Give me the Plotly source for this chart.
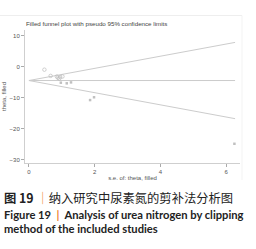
import plotly.graph_objects as go

# ---- data ----
se_obs = [0.47, 0.66, 0.85, 0.88, 0.92, 0.95, 1.02]
theta_obs = [-1.0, -3.0, -3.2, -3.6, -3.9, -3.4, -3.2]
se_filled = [0.97, 1.15, 1.28, 1.86, 1.98, 6.25]
theta_filled = [-5.2, -5.4, -5.1, -10.8, -9.9, -24.9]

line_se = [0, 6.27]
pooled_theta = [-4.5, -4.5]
upper_limit = [-4.5, 7.8]
lower_limit = [-4.5, -16.8]

x_ticks = [0, 2, 4, 6]
y_ticks = [10, 0, -10, -20, -30]

W, H = 256, 249
gray_line = "#cccccc"
txt = "#555555"

fig = go.Figure()
for yv in (upper_limit, pooled_theta, lower_limit):
    fig.add_trace(go.Scatter(x=line_se, y=yv, mode="lines",
                             line=dict(color=gray_line, width=1), hoverinfo="skip"))
fig.add_trace(go.Scatter(x=se_obs, y=theta_obs, mode="markers",
                         marker=dict(symbol="circle-open", size=3.5, color="#bdbdbd",
                                     line=dict(width=0.7))))
fig.add_trace(go.Scatter(x=se_filled, y=theta_filled, mode="markers",
                         marker=dict(symbol="square", size=2.5, color="#c0c0c0")))

px_to_x = lambda p: p / W
px_to_y = lambda p: 1 - p / H

fig.update_layout(
    width=W, height=H, margin=dict(l=0, r=0, t=0, b=0),
    paper_bgcolor="white", plot_bgcolor="white", showlegend=False,
    font=dict(family="Liberation Sans, Arial", color=txt, size=6),
    xaxis=dict(domain=[px_to_x(25), px_to_x(240)], range=[-0.12, 6.42],
               tickvals=x_ticks, ticks="outside", ticklen=3, tickcolor="#aaa",
               showline=True, linecolor="#cfcfcf", linewidth=1, showgrid=False,
               zeroline=False, tickfont=dict(size=6, color=txt),
               title=dict(text="s.e. of: theta, filled", font=dict(size=6, color=txt), standoff=1),
               anchor="y"),
    yaxis=dict(domain=[px_to_y(163), px_to_y(30)], range=[-31.1, 11.8],
               tickvals=y_ticks, ticks="outside", ticklen=3, tickcolor="#aaa",
               showline=True, linecolor="#cfcfcf", linewidth=1, showgrid=False,
               zeroline=False, tickfont=dict(size=6, color=txt),
               title=dict(text="theta, filled", font=dict(size=6, color=txt), standoff=2),
               anchor="x"),
)

# title of the Stata graph
fig.add_annotation(text="Filled funnel plot with pseudo 95% confidence limits",
                   xref="paper", yref="paper", x=px_to_x(24), y=px_to_y(24),
                   xanchor="left", yanchor="middle", showarrow=False,
                   font=dict(size=6.2, color="#444"))

# faint frame of the picture
fig.add_shape(type="line", xref="paper", yref="paper", x0=0, x1=px_to_x(242),
              y0=px_to_y(15.5), y1=px_to_y(15.5), line=dict(color="#eeeeee", width=1))
fig.add_shape(type="line", xref="paper", yref="paper", x0=px_to_x(242), x1=px_to_x(242),
              y0=px_to_y(15.5), y1=px_to_y(180), line=dict(color="#f3f3f3", width=1))

bar = "<span style='color:#ef7d2d'>｜</span>"
fig.add_annotation(text="<b>图 19</b> " + bar + "纳入研究中尿素氮的剪补法分析图",
                   xref="paper", yref="paper", x=px_to_x(2), y=px_to_y(198),
                   xanchor="left", yanchor="middle", showarrow=False,
                   font=dict(family="Noto Sans CJK SC", size=12.3, color="#222"))
fig.add_annotation(text="<b>Figure 19  " + "<span style='color:#ef7d2d'>|</span>"
                   + "  Analysis of urea nitrogen by clipping</b>",
                   xref="paper", yref="paper", x=px_to_x(2), y=px_to_y(214),
                   xanchor="left", yanchor="middle", showarrow=False,
                   font=dict(family="Lato", size=11.2, color="#222"))
fig.add_annotation(text="<b>method of the included studies</b>",
                   xref="paper", yref="paper", x=px_to_x(2), y=px_to_y(228),
                   xanchor="left", yanchor="middle", showarrow=False,
                   font=dict(family="Lato", size=11.2, color="#222"))

fig.write_html("out.html")
